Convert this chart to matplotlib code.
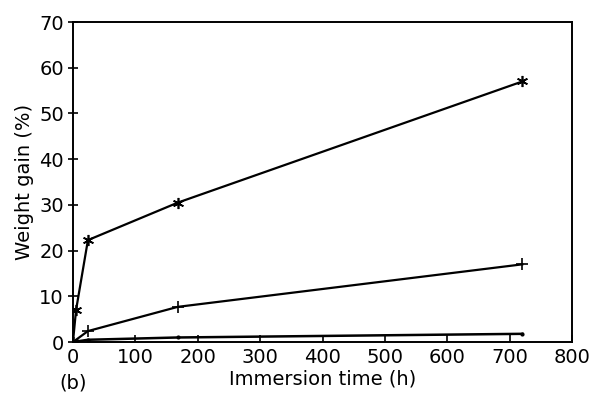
import matplotlib.pyplot as plt

# data
t_star = [0, 5, 24, 168, 720]
w_star = [0, 7, 22.3, 30.5, 57]
t_plus = [0, 24, 168, 720]
w_plus = [0, 2.4, 7.7, 17]
t_dot = [0, 24, 168, 720]
w_dot = [0, 0.5, 1.0, 1.8]

plt.rcParams['font.family'] = ['DejaVu Sans']

fig = plt.figure(figsize=(5.93, 4.01), dpi=100)
ax = fig.add_axes([0.123, 0.147, 0.842, 0.798])

ax.plot(t_star, w_star, color='black', lw=1.6, marker=(6, 2, 0), ms=8, mew=1.2)
ax.plot(t_plus, w_plus, color='black', lw=1.6, marker='+', ms=9, mew=1.2)
ax.plot(t_dot, w_dot, color='black', lw=1.8, marker='.', ms=4)

ax.set_xlim(0, 800)
ax.set_ylim(0, 70)
ax.set_xticks(range(0, 801, 100))
ax.set_yticks(range(0, 71, 10))
ax.tick_params(axis='x', direction='in', length=5, width=1.2, labelsize=14, pad=4)
ax.tick_params(axis='y', direction='inout', length=7, width=1.2, labelsize=14, pad=3)
for s in ax.spines.values():
    s.set_linewidth(1.4)

ax.set_xlabel('Immersion time (h)', fontsize=14, labelpad=2)
ax.set_ylabel('Weight gain (%)', fontsize=14, labelpad=4)
fig.text(0.10, 0.03, '(b)', fontsize=14)

fig.savefig('out.png', dpi=100)
